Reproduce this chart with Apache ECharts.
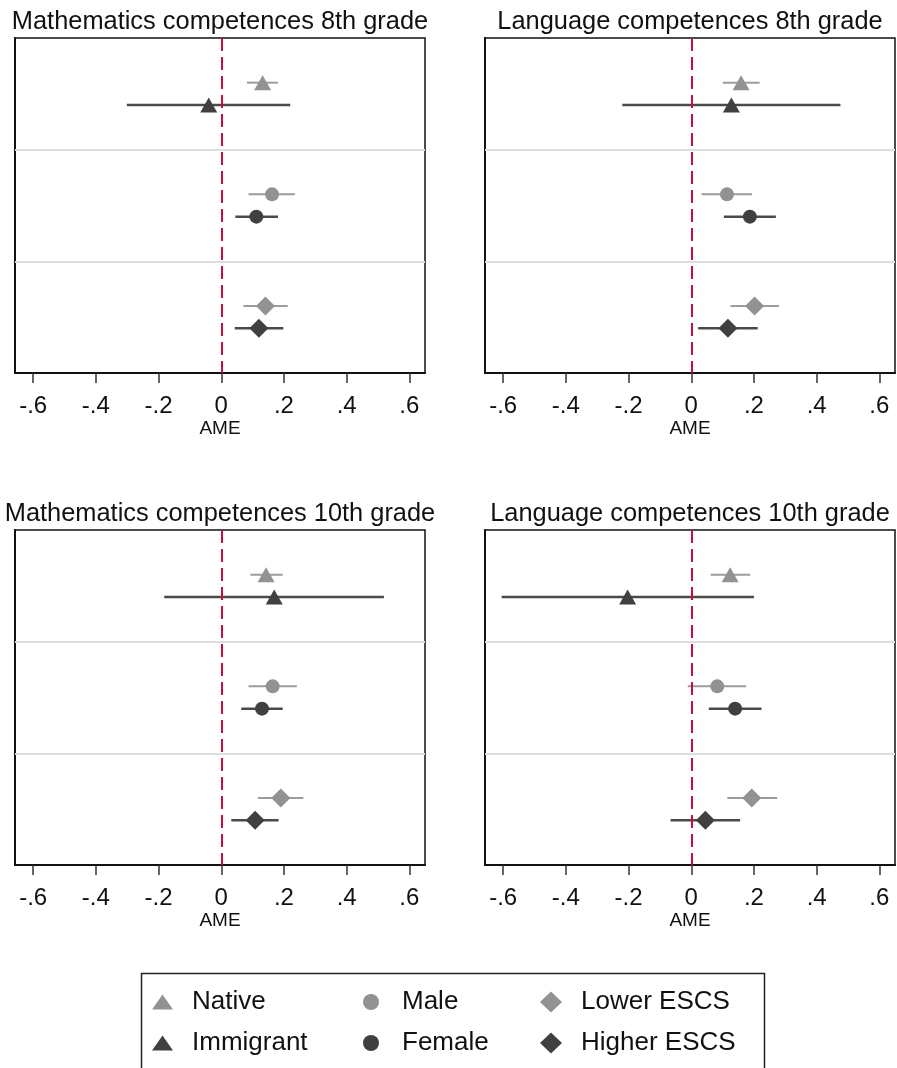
<!DOCTYPE html>
<html>
<head>
<meta charset="utf-8">
<title>AME by group</title>
<script src="https://cdn.jsdelivr.net/npm/echarts@6/dist/echarts.min.js"></script>
<style>
  html, body { margin: 0; padding: 0; background: #fff; }
  #main { width: 897px; height: 1068px; }
</style>
</head>
<body>
<div id="main"></div>
<script>
// groups, drawn top to bottom inside each panel
const groups = ['Native', 'Immigrant', 'Male', 'Female', 'Lower ESCS', 'Higher ESCS'];
const groupY = [0.4, 0.6, 1.4, 1.6, 2.4, 2.6];
const groupSymbol = ['triangle', 'triangle', 'circle', 'circle', 'diamond', 'diamond'];
const groupShade = ['light', 'dark', 'light', 'dark', 'light', 'dark'];

const panelTitles = [
  'Mathematics competences 8th grade',
  'Language competences 8th grade',
  'Mathematics competences 10th grade',
  'Language competences 10th grade',
];

// point estimates and 95% CI bounds, one array per panel
const ameMath8 = [0.132, -0.040, 0.162, 0.112, 0.141, 0.120];
const loMath8 = [0.082, -0.301, 0.087, 0.045, 0.071, 0.043];
const hiMath8 = [0.181, 0.220, 0.235, 0.181, 0.212, 0.198];

const ameLang8 = [0.159, 0.128, 0.114, 0.187, 0.202, 0.117];
const loLang8 = [0.101, -0.220, 0.033, 0.104, 0.125, 0.022];
const hiLang8 = [0.218, 0.476, 0.194, 0.270, 0.280, 0.212];

const ameMath10 = [0.143, 0.169, 0.164, 0.130, 0.190, 0.108];
const loMath10 = [0.093, -0.182, 0.087, 0.064, 0.117, 0.032];
const hiMath10 = [0.196, 0.519, 0.241, 0.196, 0.262, 0.183];

const ameLang10 = [0.124, -0.203, 0.083, 0.140, 0.193, 0.045];
const loLang10 = [0.062, -0.605, -0.011, 0.056, 0.115, -0.066];
const hiLang10 = [0.188, 0.200, 0.175, 0.224, 0.274, 0.156];

const xTicks = [-0.6, -0.4, -0.2, 0, 0.2, 0.4, 0.6];

const panels = [
  { ame: ameMath8, lo: loMath8, hi: hiMath8 },
  { ame: ameLang8, lo: loLang8, hi: hiLang8 },
  { ame: ameMath10, lo: loMath10, hi: hiMath10 },
  { ame: ameLang10, lo: loLang10, hi: hiLang10 },
];

const FONT = '"Liberation Sans", Arial, sans-serif';
const markerColor = { light: '#929292', dark: '#404040' };
const lineColor = { light: '#9c9c9c', dark: '#4a4a4a' };
const symbolSizes = { triangle: [17, 15], circle: 14, diamond: [19, 19] };

// panel boxes
const gridPos = [
  { left: 15, top: 38 },
  { left: 485, top: 38 },
  { left: 15, top: 530 },
  { left: 485, top: 530 },
];

const fmtTick = (v) => {
  if (Math.abs(v) < 1e-9) return '0';
  return v.toFixed(1).replace('0.', '.');
};

const grid = gridPos.map((g) => ({
  left: g.left,
  top: g.top,
  width: 410,
  height: 335,
  show: true,
  borderColor: '#111',
  borderWidth: 1.5,
  backgroundColor: '#fff',
}));

const xAxis = gridPos.map((g, i) => ({
  type: 'value',
  gridIndex: i,
  position: 'bottom',
  min: -0.658,
  max: 0.65,
  name: 'AME',
  nameLocation: 'middle',
  nameGap: 46,
  nameTextStyle: { fontFamily: FONT, fontSize: 19, color: '#111' },
  axisLine: { show: true, onZero: false, lineStyle: { color: '#111', width: 2 } },
  axisTick: {
    show: true,
    inside: false,
    length: 10,
    customValues: xTicks,
    lineStyle: { color: '#333', width: 1.5 },
  },
  axisLabel: {
    show: true,
    customValues: xTicks,
    margin: 21,
    fontFamily: FONT,
    fontSize: 24,
    color: '#111',
    formatter: fmtTick,
  },
  splitLine: { show: false },
}));

const yAxis = gridPos.map((g, i) => ({
  type: 'value',
  gridIndex: i,
  min: 0,
  max: 3,
  inverse: true,
  axisLine: { show: true, onZero: false, lineStyle: { color: '#111', width: 2 } },
  axisTick: { show: false },
  axisLabel: { show: false },
  splitLine: { show: false },
}));

const series = [];
panels.forEach((p, pi) => {
  // confidence interval whiskers
  series.push({
    type: 'custom',
    name: 'CI ' + pi,
    xAxisIndex: pi,
    yAxisIndex: pi,
    z: 1,
    silent: true,
    encode: { x: [0, 1], y: 2 },
    data: groups.map((_, i) => [p.lo[i], p.hi[i], groupY[i]]),
    renderItem: (params, api) => {
      const y = api.value(2);
      const a = api.coord([api.value(0), y]);
      const b = api.coord([api.value(1), y]);
      const shade = groupShade[params.dataIndex];
      return {
        type: 'line',
        shape: { x1: a[0], y1: a[1], x2: b[0], y2: b[1] },
        style: { stroke: lineColor[shade], lineWidth: shade === 'dark' ? 2.5 : 2 },
      };
    },
    markLine: {
      silent: true,
      symbol: 'none',
      label: { show: false },
      data: [
        { yAxis: 1, lineStyle: { color: '#dedede', width: 2, type: 'solid' } },
        { yAxis: 2, lineStyle: { color: '#dedede', width: 2, type: 'solid' } },
        { xAxis: 0, lineStyle: { color: '#c8103e', width: 2, type: [13, 6] } },
      ],
    },
  });

  // point estimates
  groups.forEach((name, i) => {
    series.push({
      type: 'scatter',
      name: name,
      xAxisIndex: pi,
      yAxisIndex: pi,
      z: 3,
      symbol: groupSymbol[i],
      symbolSize: symbolSizes[groupSymbol[i]],
      itemStyle: { color: markerColor[groupShade[i]], opacity: 1 },
      data: [[p.ame[i], groupY[i]]],
    });
  });
});

const title = panelTitles.map((t, i) => ({
  text: t,
  left: gridPos[i].left + 205,
  top: gridPos[i].top - 29,
  padding: 0,
  textAlign: 'center',
  textStyle: { fontFamily: FONT, fontSize: 25.4, fontWeight: 'normal', color: '#111' },
}));

const legendCol = (names, icon, left, w, h, pad) => ({
  orient: 'vertical',
  left: left,
  top: 989,
  padding: 0,
  itemGap: 15,
  itemWidth: w,
  itemHeight: h,
  selectedMode: false,
  textStyle: { fontFamily: FONT, fontSize: 26, color: '#111', padding: [0, 0, 0, pad] },
  data: names.map((n) => ({
    name: n,
    icon: icon,
    itemStyle: { color: markerColor[groupShade[groups.indexOf(n)]] },
  })),
});

const legend = [
  legendCol(['Native', 'Immigrant'], 'triangle', 152, 21, 15, 14),
  legendCol(['Male', 'Female'], 'circle', 363, 16, 16, 18),
  legendCol(['Lower ESCS', 'Higher ESCS'], 'diamond', 540, 22, 21, 14),
];

const myChart = echarts.init(document.getElementById('main'), null, { renderer: 'canvas' });
myChart.setOption({
  animation: false,
  backgroundColor: '#fff',
  title: title,
  legend: legend,
  grid: grid,
  xAxis: xAxis,
  yAxis: yAxis,
  series: series,
  graphic: [
    {
      type: 'rect',
      shape: { x: 141.5, y: 973.5, width: 623, height: 110 },
      style: { fill: 'none', stroke: '#222', lineWidth: 1.5 },
      silent: true,
    },
  ],
});
</script>
</body>
</html>
